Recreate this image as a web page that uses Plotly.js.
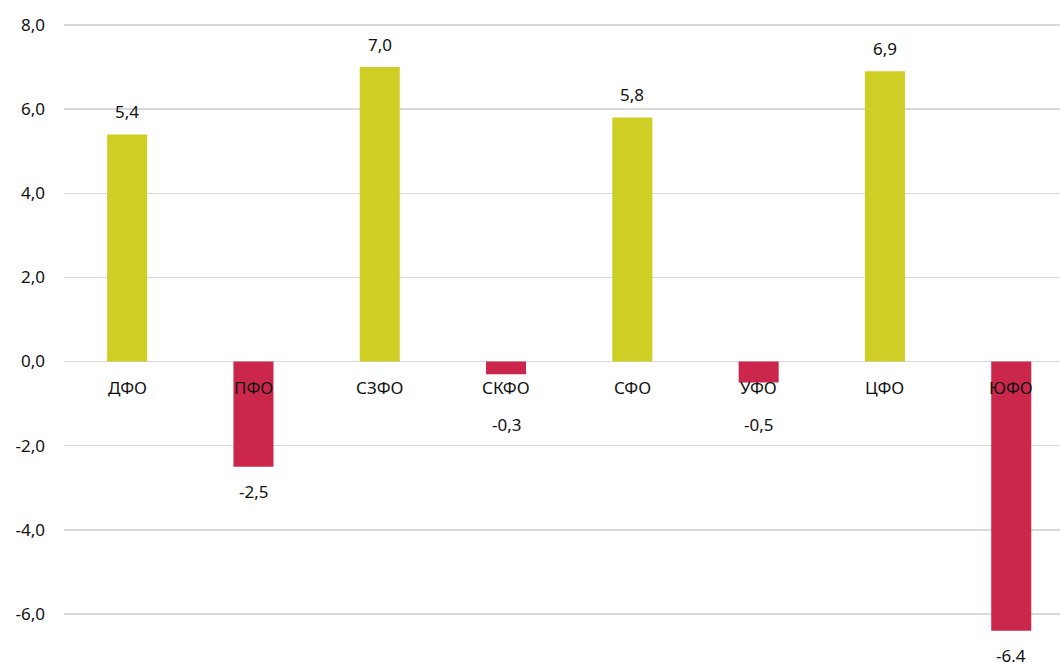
<!DOCTYPE html>
<html><head><meta charset="utf-8">
<script src="https://cdn.plot.ly/plotly-3.0.1.min.js"></script>
<style>html,body{margin:0;padding:0;background:#fff}#chart{width:1060px;height:662px}</style>
</head><body><div id="chart"></div>
<script>
const categories = ['ДФО','ПФО','СЗФО','СКФО','СФО','УФО','ЦФО','ЮФО'];
const values = [5.4, -2.5, 7.0, -0.3, 5.8, -0.5, 6.9, -6.4];
const yTicks = [-6, -4, -2, 0, 2, 4, 6, 8];

const POS = '#CECE25', NEG = '#CB274C';
const FONT = 'Noto Sans, Open Sans, sans-serif';
const PX_PER_UNIT = 42;

const fmt = v => v.toFixed(1).replace('.', ',');

const annotations = [];
categories.forEach((c, i) => {
  annotations.push({x: c, y: 0, xref: 'x', yref: 'y', text: c, showarrow: false,
    yanchor: 'middle', yshift: -26, font: {family: FONT, size: 17, color: '#111'}});
  const v = values[i];
  let shift;
  if (v >= 0) shift = 23;
  else shift = -Math.max(25, 63 - Math.abs(v) * PX_PER_UNIT);
  annotations.push({x: c, y: v, xref: 'x', yref: 'y', text: fmt(v), showarrow: false,
    yanchor: 'middle', yshift: shift, font: {family: FONT, size: 17, color: '#111'}});
});

Plotly.newPlot('chart', [{
  type: 'bar', x: categories, y: values, width: 0.317,
  marker: {color: values.map(v => v >= 0 ? POS : NEG), line: {width: 0}},
  hoverinfo: 'skip'
}], {
  width: 1060, height: 662,
  margin: {l: 64, r: 0, t: 0, b: 0},
  paper_bgcolor: '#fff', plot_bgcolor: '#fff',
  separators: ', ',
  showlegend: false,
  xaxis: {type: 'category', range: [-0.5, 7.386], showticklabels: false, showgrid: false,
    zeroline: false, showline: false, ticks: ''},
  yaxis: {range: [-7.143, 8.595], tickvals: yTicks, ticktext: yTicks.map(fmt),
    showgrid: true, gridcolor: '#d9d9d9', gridwidth: 1.5, zeroline: true,
    zerolinecolor: '#d9d9d9', zerolinewidth: 1.5, showline: false, ticks: '',
    ticklabelstandoff: 18, tickfont: {family: FONT, size: 17, color: '#111'}},
  annotations: annotations
}, {staticPlot: true});
</script></body></html>
